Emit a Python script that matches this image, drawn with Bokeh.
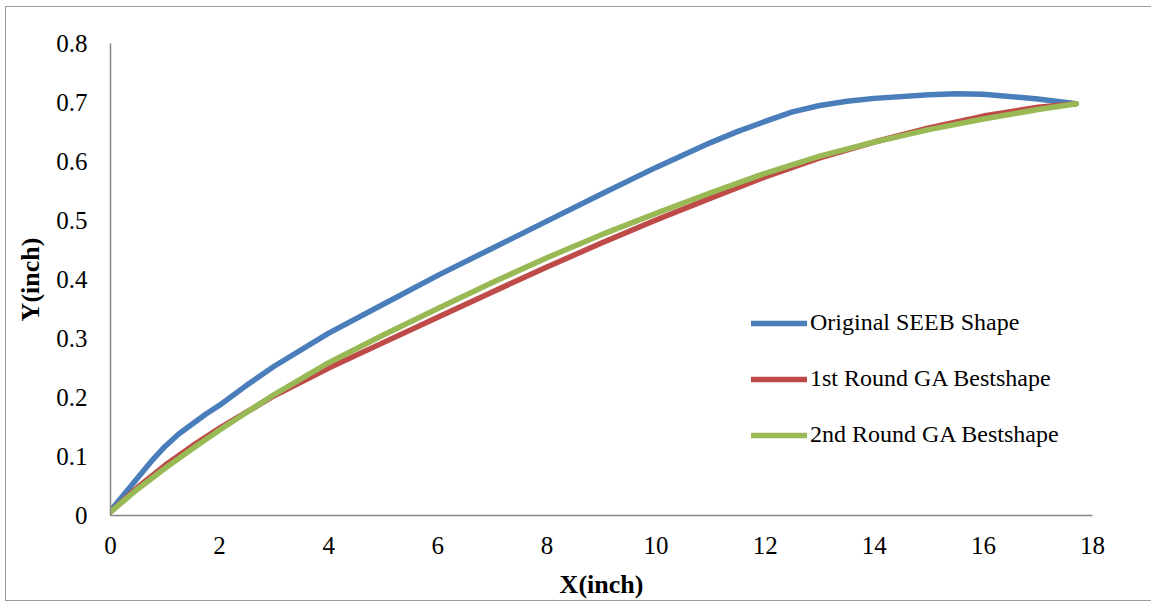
from bokeh.plotting import figure
from bokeh.models import Range1d, FixedTicker, CustomJSTickFormatter, Legend, LegendItem
from bokeh.embed import file_html
from bokeh.resources import INLINE

# ---- data ----
x_orig = [0, 0.25, 0.5, 0.75, 1, 1.25, 1.5, 1.75, 2, 2.5, 3, 4, 5, 6, 7, 8, 9, 10, 11, 11.5, 12, 12.5,
          13, 13.5, 14, 15, 15.5, 16, 17, 17.7]
y_orig = [0.008, 0.036, 0.064, 0.092, 0.117, 0.138, 0.155, 0.172, 0.187, 0.221, 0.253, 0.309, 0.358,
          0.407, 0.453, 0.499, 0.545, 0.59, 0.632, 0.651, 0.668, 0.684, 0.695, 0.702, 0.707, 0.713,
          0.715, 0.714, 0.706, 0.698]

x_r1 = [0, 0.5, 1, 1.5, 2, 3, 4, 5, 6, 7, 8, 9, 10, 11, 12, 13, 14, 15, 16, 17, 17.7]
y_r1 = [0.006, 0.048, 0.085, 0.118, 0.148, 0.203, 0.25, 0.293, 0.336, 0.379, 0.421, 0.462, 0.501,
        0.538, 0.574, 0.606, 0.633, 0.657, 0.677, 0.692, 0.698]

x_r2 = [0, 0.5, 1, 1.5, 2, 3, 4, 5, 6, 7, 8, 9, 10, 11, 12, 13, 14, 15, 16, 17, 17.7]
y_r2 = [0.006, 0.045, 0.08, 0.113, 0.145, 0.205, 0.259, 0.306, 0.351, 0.395, 0.437, 0.476, 0.512,
        0.547, 0.58, 0.609, 0.633, 0.654, 0.672, 0.688, 0.698]

series_names = ["Original SEEB Shape", "1st Round GA Bestshape", "2nd Round GA Bestshape"]
x_ticks = [0, 2, 4, 6, 8, 10, 12, 14, 16, 18]
y_ticks = [0, 0.1, 0.2, 0.3, 0.4, 0.5, 0.6, 0.7, 0.8]

colors = ["#4A7EBB", "#BE4B48", "#98B954"]
FONT = "Liberation Serif"

g = "linear-gradient(#9a9a9a, #9a9a9a)"
border_bg = (f"{g} 5px 6px / 1px 595px no-repeat, "
             f"{g} 5px 6px / 1200px 1px no-repeat, "
             f"{g} 5px 600px / 1200px 1px no-repeat, white")

p = figure(width=1151, height=602, output_backend="svg", toolbar_location=None,
           x_range=Range1d(0, 18), y_range=Range1d(0, 0.8),
           min_border_left=110, min_border_top=43, min_border_right=59, min_border_bottom=87,
           styles={"background": border_bg})

p.xgrid.visible = False
p.ygrid.visible = False
p.outline_line_color = None
p.background_fill_color = "white"
p.border_fill_color = None

for ax in (p.xaxis[0], p.yaxis[0]):
    ax.axis_line_color = "#868686"
    ax.axis_line_width = 1.5
    ax.major_tick_line_color = None
    ax.minor_tick_line_color = None
    ax.major_tick_in = 0
    ax.major_tick_out = 0
    ax.major_label_text_font = FONT
    ax.major_label_text_font_size = "25px"
    ax.major_label_text_color = "black"
    ax.axis_label_text_font = FONT
    ax.axis_label_text_font_size = "26px"
    ax.axis_label_text_font_style = "bold"
    ax.axis_label_text_color = "black"

p.xaxis.ticker = FixedTicker(ticks=x_ticks)
p.yaxis.ticker = FixedTicker(ticks=y_ticks)
p.yaxis.formatter = CustomJSTickFormatter(code="return tick == 0 ? '0' : tick.toFixed(1);")
p.xaxis.formatter = CustomJSTickFormatter(code="return tick.toFixed(0);")
p.xaxis.axis_label = "X(inch)"
p.yaxis.axis_label = "Y(inch)"
p.xaxis.major_label_standoff = 21
p.yaxis.major_label_standoff = 23
p.xaxis.axis_label_standoff = 13
p.yaxis.axis_label_standoff = 8

r0 = p.line(x_orig, y_orig, line_color=colors[0], line_width=5.5, line_cap="round", line_join="round")
r1 = p.line(x_r1, y_r1, line_color=colors[1], line_width=5.5, line_cap="round", line_join="round")
r2 = p.line(x_r2, y_r2, line_color=colors[2], line_width=5.5, line_cap="round", line_join="round")

legend = Legend(items=[LegendItem(label=series_names[0], renderers=[r0]),
                       LegendItem(label=series_names[1], renderers=[r1]),
                       LegendItem(label=series_names[2], renderers=[r2])],
                location=(641, 67), orientation="vertical")
legend.border_line_color = None
legend.background_fill_alpha = 0
legend.padding = 0
legend.margin = 0
legend.spacing = 29
legend.glyph_width = 56
legend.glyph_height = 20
legend.label_height = 20
legend.label_standoff = 3
legend.label_text_font = FONT
legend.label_text_font_size = "24px"
legend.label_text_color = "black"
legend.label_text_baseline = "middle"
p.add_layout(legend, "center")

open("out.html", "w").write(file_html(p, INLINE))
